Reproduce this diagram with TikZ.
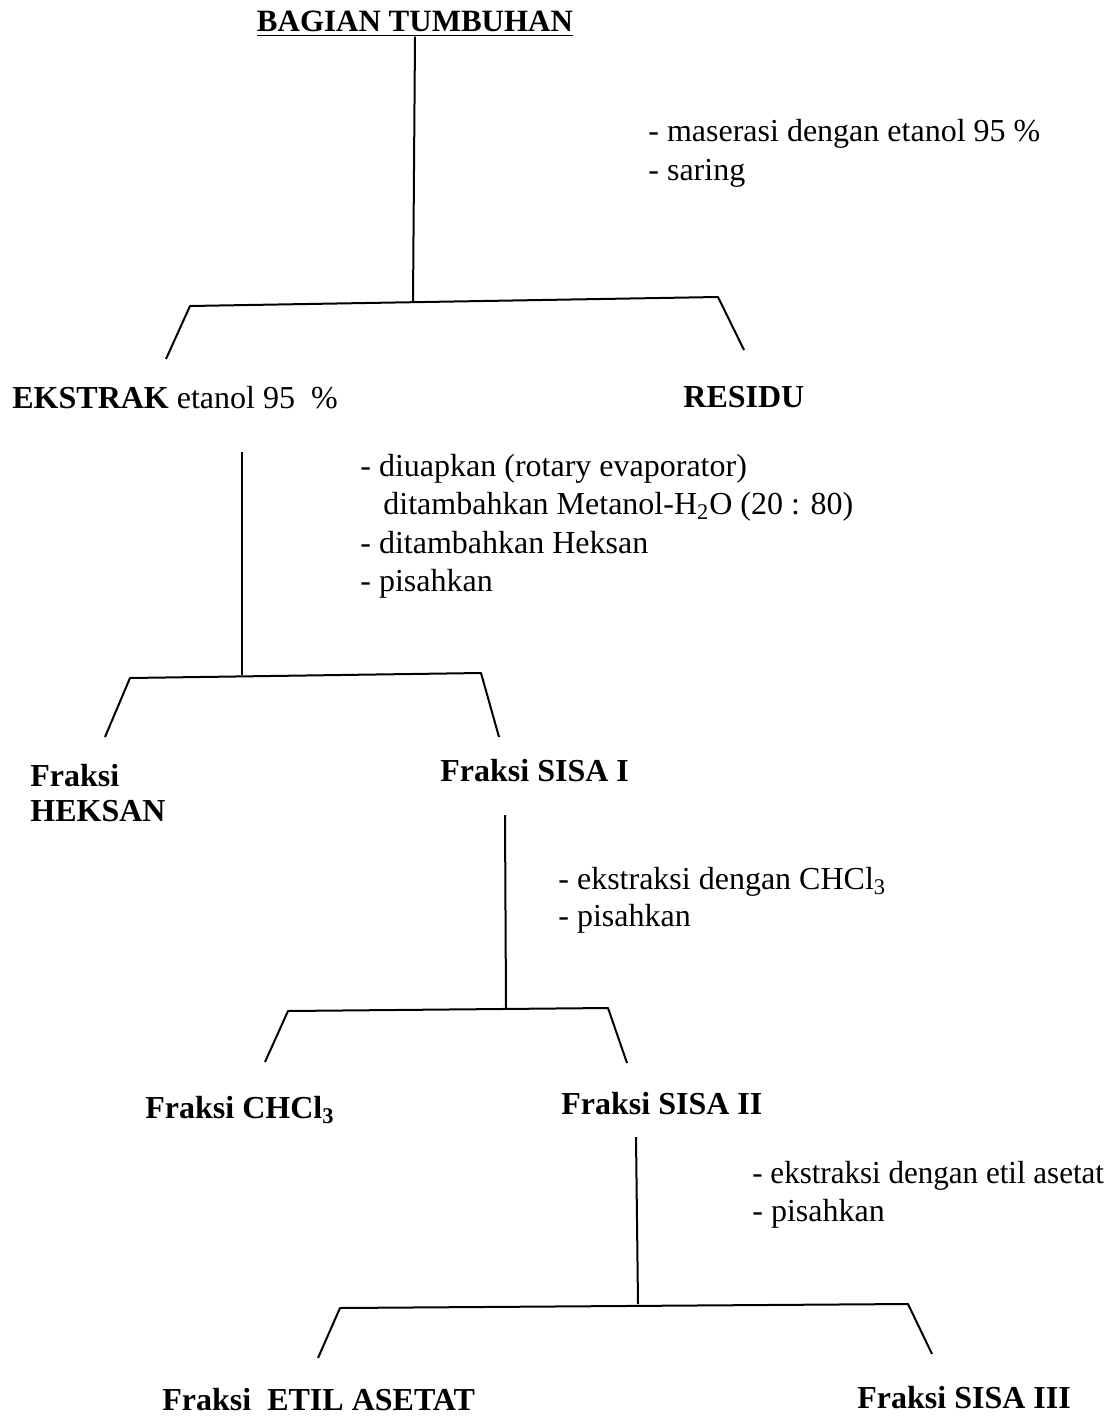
\documentclass[tikz,border=0pt]{standalone}
\usepackage{fontspec}
\setmainfont{Liberation Serif}

\begin{document}
\begin{tikzpicture}[x=0.5pt, y=-0.5pt,
    hasil/.style={font=\fontsize{16}{19}\selectfont\bfseries, anchor=base west, inner sep=0pt},
    ket/.style={font=\fontsize{16}{19}\selectfont, anchor=base west, inner sep=0pt},
    garis/.style={line width=1pt, line join=round}]
    \useasboundingbox (0,0) rectangle (1110,1418);

    % judul
    \node[hasil, font=\fontsize{15.5}{18}\selectfont\bfseries, anchor=base] (judul) at (415,32) {\underline{BAGIAN TUMBUHAN}};
    \node[ket] (maserasi1) at (648,141) {- maserasi dengan etanol 95 \%};
    \node[ket] (maserasi2) at (648,180) {- saring};

    % langkah 1
    \coordinate (j1) at (413,302);
    \coordinate (kiri1) at (190,306);
    \coordinate (kanan1) at (718,297);
    \coordinate (kakiKiri1) at (166,359);
    \coordinate (kakiKanan1) at (744,350);
    \draw[garis] (judul.south) -- (j1);
    \draw[garis] (kakiKiri1) -- (kiri1) -- (kanan1) -- (kakiKanan1);
    \node[hasil] (ekstrak) at (12,408) {EKSTRAK \mdseries etanol 95 \ \%};
    \node[hasil] (residu) at (683,407) {RESIDU};

    % langkah 2
    \node[ket] (uap1) at (360,476) {- diuapkan (rotary evaporator)};
    \node[ket] (uap2) at (383,514) {ditambahkan Metanol-H\textsubscript{2}O (20 : 80)};
    \node[ket] (uap3) at (360,553) {- ditambahkan Heksan};
    \node[ket] (uap4) at (360,591) {- pisahkan};
    \coordinate (a2) at (242,452);
    \coordinate (j2) at (242,675);
    \coordinate (kiri2) at (130,678);
    \coordinate (kanan2) at (481,673);
    \coordinate (kakiKiri2) at (105,737);
    \coordinate (kakiKanan2) at (499,737);
    \draw[garis] (a2) -- (j2);
    \draw[garis] (kakiKiri2) -- (kiri2) -- (kanan2) -- (kakiKanan2);
    \node[hasil] (heksan1) at (30,786) {Fraksi};
    \node[hasil] (heksan2) at (30,821) {HEKSAN};
    \node[hasil] (sisa1) at (440,781) {Fraksi SISA I};

    % langkah 3
    \node[ket] (chclKet1) at (558,889) {- ekstraksi dengan CHCl\textsubscript{3}};
    \node[ket] (chclKet2) at (558,926) {- pisahkan};
    \coordinate (a3) at (505,815);
    \coordinate (j3) at (506,1008);
    \coordinate (kiri3) at (288,1011);
    \coordinate (kanan3) at (608,1008);
    \coordinate (kakiKiri3) at (265,1062);
    \coordinate (kakiKanan3) at (627,1063);
    \draw[garis] (a3) -- (j3);
    \draw[garis] (kakiKiri3) -- (kiri3) -- (kanan3) -- (kakiKanan3);
    \node[hasil] (chcl) at (145,1118) {Fraksi CHCl\textsubscript{3}};
    \node[hasil] (sisa2) at (561,1114) {Fraksi SISA II};

    % langkah 4
    \node[ket, xscale=0.97] (etilKet1) at (752,1183) {- ekstraksi dengan etil asetat};
    \node[ket] (etilKet2) at (752,1221) {- pisahkan};
    \coordinate (a4) at (636,1137);
    \coordinate (j4) at (638,1304);
    \coordinate (kiri4) at (340,1308);
    \coordinate (kanan4) at (908,1304);
    \coordinate (kakiKiri4) at (318,1358);
    \coordinate (kakiKanan4) at (932,1354);
    \draw[garis] (a4) -- (j4);
    \draw[garis] (kakiKiri4) -- (kiri4) -- (kanan4) -- (kakiKanan4);
    \node[hasil] (etil) at (162,1410) {Fraksi \ ETIL ASETAT};
    \node[hasil] (sisa3) at (857,1408) {Fraksi SISA III};
\end{tikzpicture}
\end{document}
